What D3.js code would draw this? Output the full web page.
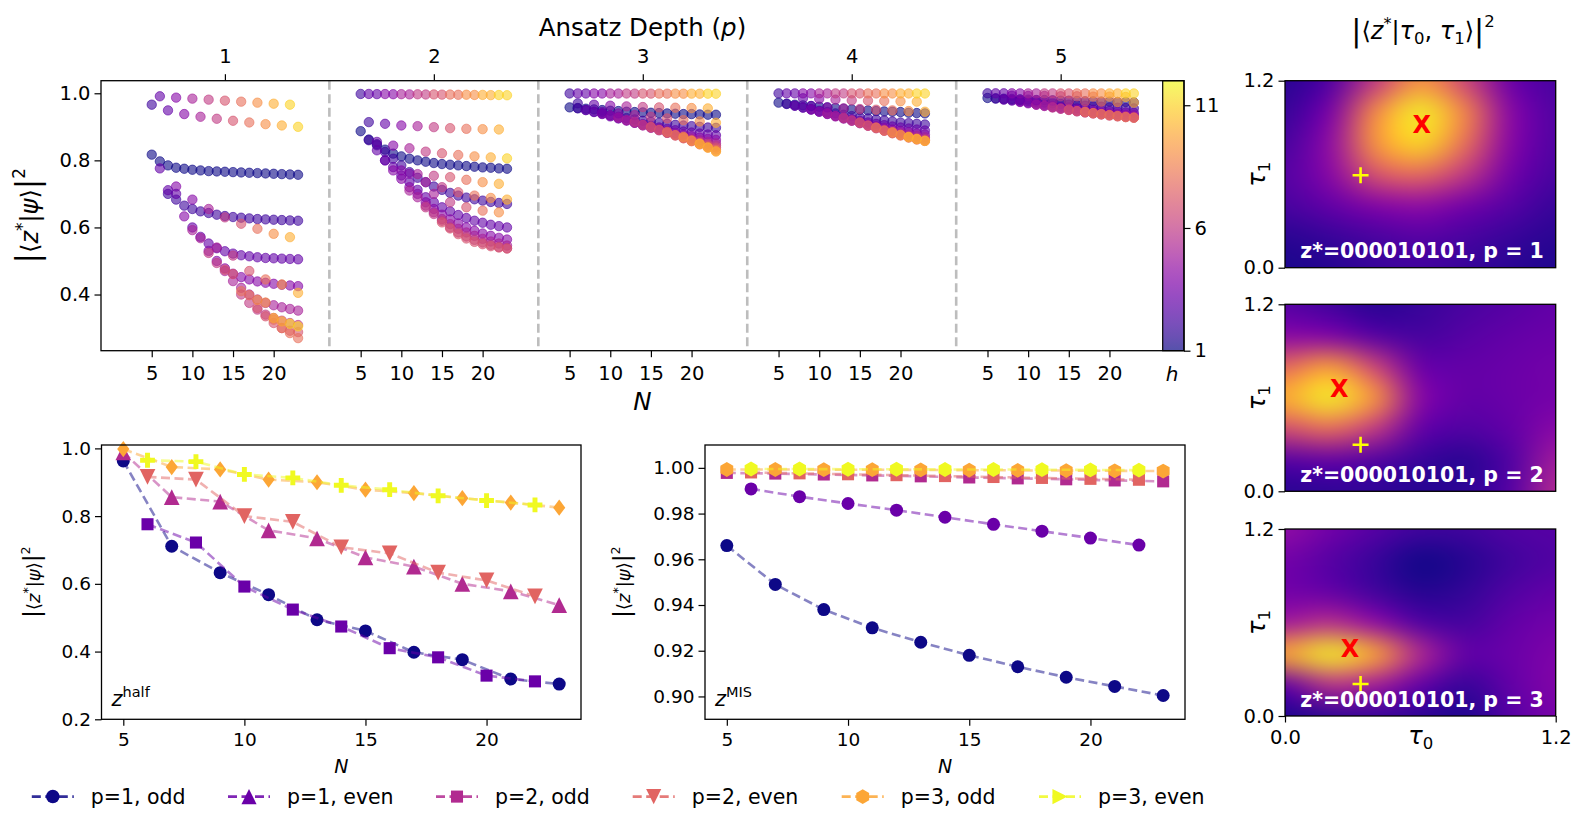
<!DOCTYPE html>
<html>
<head>
<meta charset="utf-8">
<script src="https://cdn.jsdelivr.net/npm/d3@7"></script>
<style>
  body { margin: 0; background: #fff; }
  svg { font-family: 'DejaVu Sans', sans-serif; }
</style>
</head>
<body>
<svg id="fig" width="1587" height="833"></svg>
<script>
// ---------- data ----------
const depths = [1, 2, 3, 4, 5];
const nTicks = [5, 10, 15, 20];
const hTicks = [1, 6, 11];
const topYTicks = [0.4, 0.6, 0.8, 1.0];

// each track: first N, N step, h at first point, h change per point, overlaps
const tracksP1 = [
  { n0: 5, step: 1, h0: 1, dh: 0, v: [0.817, 0.797, 0.785, 0.778, 0.775, 0.772, 0.770, 0.768, 0.767, 0.766, 0.765, 0.764, 0.763, 0.762, 0.761, 0.760, 0.759, 0.758, 0.757] },
  { n0: 7, step: 1, h0: 2, dh: 0, v: [0.700, 0.683, 0.665, 0.655, 0.648, 0.643, 0.638, 0.634, 0.631, 0.629, 0.627, 0.625, 0.624, 0.623, 0.622, 0.621, 0.620] },
  { n0: 10, step: 1, h0: 3, dh: 0, v: [0.600, 0.572, 0.552, 0.538, 0.529, 0.522, 0.517, 0.514, 0.511, 0.509, 0.508, 0.507, 0.506, 0.505] },
  { n0: 12, step: 1, h0: 4, dh: 0, v: [0.530, 0.500, 0.478, 0.462, 0.452, 0.445, 0.439, 0.435, 0.432, 0.429, 0.427, 0.425] },
  { n0: 14, step: 1, h0: 5, dh: 0, v: [0.470, 0.440, 0.420, 0.400, 0.385, 0.375, 0.368, 0.362, 0.357, 0.352] },
  { n0: 16, step: 1, h0: 6, dh: 0, v: [0.400, 0.375, 0.355, 0.340, 0.330, 0.322, 0.315, 0.309] },
  { n0: 18, step: 1, h0: 7, dh: 0, v: [0.360, 0.335, 0.315, 0.300, 0.292, 0.288] },
  { n0: 20, step: 1, h0: 8, dh: 0, v: [0.325, 0.300, 0.285, 0.270] },
  { n0: 6, step: 2, h0: 3, dh: 1, v: [0.776, 0.722, 0.592, 0.524, 0.474, 0.410, 0.384, 0.330, 0.313] },
  { n0: 7, step: 2, h0: 3, dh: 1, v: [0.711, 0.633, 0.568, 0.494, 0.461, 0.398, 0.376, 0.320, 0.305] },
  { n0: 8, step: 2, h0: 3, dh: 1, v: [0.700, 0.683, 0.655, 0.630, 0.611, 0.596, 0.581, 0.571] },
  { n0: 13, step: 2, h0: 5, dh: 1, v: [0.540, 0.516, 0.470, 0.445, 0.430, 0.405] },
  { n0: 5, step: 2, h0: 2, dh: 1, v: [0.966, 0.949, 0.938, 0.930, 0.924, 0.918, 0.913, 0.908, 0.904, 0.900] },
  { n0: 6, step: 2, h0: 3, dh: 1, v: [0.991, 0.987, 0.984, 0.981, 0.978, 0.975, 0.972, 0.969, 0.966] }
];
const tracksP2 = [
  { n0: 5, step: 1, h0: 1, dh: 0, v: [0.887, 0.862, 0.848, 0.832, 0.820, 0.812, 0.805, 0.800, 0.796, 0.792, 0.789, 0.787, 0.785, 0.783, 0.781, 0.779, 0.778, 0.776, 0.775] },
  { n0: 6, step: 1, h0: 2, dh: 0, v: [0.860, 0.845, 0.825, 0.805, 0.785, 0.765, 0.748, 0.735, 0.722, 0.712, 0.703, 0.695, 0.689, 0.684, 0.680, 0.676, 0.673, 0.670] },
  { n0: 7, step: 1, h0: 3, dh: 0, v: [0.830, 0.800, 0.780, 0.755, 0.735, 0.712, 0.690, 0.675, 0.660, 0.648, 0.637, 0.628, 0.620, 0.614, 0.608, 0.604, 0.600] },
  { n0: 9, step: 1, h0: 4, dh: 0, v: [0.770, 0.745, 0.720, 0.700, 0.675, 0.655, 0.638, 0.624, 0.612, 0.600, 0.590, 0.582, 0.575, 0.569, 0.564] },
  { n0: 11, step: 1, h0: 5, dh: 0, v: [0.710, 0.690, 0.665, 0.645, 0.625, 0.610, 0.596, 0.585, 0.575, 0.566, 0.558, 0.552, 0.546] },
  { n0: 13, step: 1, h0: 6, dh: 0, v: [0.660, 0.640, 0.620, 0.600, 0.585, 0.573, 0.563, 0.555, 0.548, 0.542, 0.538] },
  { n0: 15, step: 1, h0: 7, dh: 0, v: [0.615, 0.597, 0.580, 0.567, 0.557, 0.550, 0.544, 0.540, 0.537] },
  { n0: 7, step: 2, h0: 3, dh: 1, v: [0.855, 0.844, 0.836, 0.826, 0.821, 0.816, 0.812, 0.809, 0.806] },
  { n0: 8, step: 2, h0: 3, dh: 1, v: [0.800, 0.770, 0.759, 0.754, 0.750, 0.742, 0.735, 0.730] },
  { n0: 11, step: 2, h0: 4, dh: 1, v: [0.760, 0.735, 0.720, 0.705, 0.695, 0.688, 0.683] },
  { n0: 14, step: 2, h0: 5, dh: 1, v: [0.700, 0.675, 0.660, 0.650, 0.645] },
  { n0: 6, step: 2, h0: 2, dh: 1, v: [0.914, 0.909, 0.904, 0.902, 0.899, 0.896, 0.894, 0.893, 0.892] },
  { n0: 5, step: 2, h0: 2, dh: 1, v: [0.998, 0.9975, 0.9972, 0.9968, 0.9964, 0.996, 0.9955, 0.995, 0.9945, 0.9941] },
  { n0: 6, step: 2, h0: 3, dh: 1, v: [0.998, 0.9977, 0.9973, 0.997, 0.9966, 0.9962, 0.9957, 0.9952, 0.9948] }
];
const tracksP3 = [
  { n0: 5, step: 1, h0: 1, dh: 0, v: [0.958, 0.956, 0.954, 0.952, 0.950, 0.948, 0.947, 0.945, 0.944, 0.943, 0.942, 0.941, 0.940, 0.939, 0.938, 0.938, 0.937, 0.936, 0.936] },
  { n0: 6, step: 1, h0: 2, dh: 0, v: [0.955, 0.950, 0.945, 0.940, 0.935, 0.930, 0.926, 0.922, 0.918, 0.915, 0.912, 0.909, 0.906, 0.904, 0.902, 0.900, 0.898, 0.897] },
  { n0: 7, step: 1, h0: 3, dh: 0, v: [0.950, 0.944, 0.938, 0.931, 0.925, 0.919, 0.913, 0.908, 0.903, 0.898, 0.894, 0.890, 0.886, 0.883, 0.880, 0.877, 0.875] },
  { n0: 9, step: 1, h0: 4, dh: 0, v: [0.940, 0.933, 0.926, 0.919, 0.912, 0.905, 0.899, 0.893, 0.887, 0.882, 0.877, 0.872, 0.868, 0.864, 0.861] },
  { n0: 11, step: 1, h0: 5, dh: 0, v: [0.928, 0.920, 0.912, 0.904, 0.897, 0.890, 0.883, 0.877, 0.871, 0.865, 0.860, 0.855, 0.851] },
  { n0: 13, step: 1, h0: 6, dh: 0, v: [0.915, 0.906, 0.898, 0.890, 0.882, 0.875, 0.868, 0.861, 0.855, 0.849, 0.844] },
  { n0: 15, step: 1, h0: 7, dh: 0, v: [0.900, 0.891, 0.882, 0.874, 0.866, 0.858, 0.851, 0.844, 0.838] },
  { n0: 17, step: 1, h0: 8, dh: 0, v: [0.885, 0.875, 0.866, 0.857, 0.848, 0.840, 0.832] },
  { n0: 19, step: 1, h0: 9, dh: 0, v: [0.870, 0.859, 0.848, 0.838, 0.828] },
  { n0: 21, step: 1, h0: 10, dh: 0, v: [0.850, 0.838, 0.826] },
  { n0: 9, step: 2, h0: 3, dh: 1, v: [0.945, 0.940, 0.935, 0.930, 0.925, 0.920, 0.916, 0.912] },
  { n0: 6, step: 2, h0: 2, dh: 1, v: [0.970, 0.966, 0.963, 0.961, 0.959, 0.958, 0.957, 0.956, 0.955] },
  { n0: 5, step: 2, h0: 2, dh: 1, v: [0.9995, 0.9994, 0.9993, 0.9992, 0.9991, 0.9990, 0.9989, 0.9988, 0.9987, 0.9986] },
  { n0: 6, step: 2, h0: 3, dh: 1, v: [0.9996, 0.9995, 0.9994, 0.9993, 0.9992, 0.9991, 0.9990, 0.9989, 0.9988] }
];
const tracksP4 = [
  { n0: 5, step: 1, h0: 1, dh: 0, v: [0.972, 0.969, 0.966, 0.964, 0.962, 0.960, 0.958, 0.956, 0.954, 0.952, 0.950, 0.949, 0.947, 0.946, 0.945, 0.944, 0.942, 0.941, 0.940] },
  { n0: 6, step: 1, h0: 2, dh: 0, v: [0.968, 0.963, 0.958, 0.953, 0.948, 0.944, 0.940, 0.936, 0.932, 0.928, 0.925, 0.922, 0.919, 0.916, 0.913, 0.911, 0.909, 0.907] },
  { n0: 7, step: 1, h0: 3, dh: 0, v: [0.963, 0.957, 0.951, 0.945, 0.939, 0.933, 0.928, 0.923, 0.918, 0.913, 0.909, 0.905, 0.901, 0.898, 0.895, 0.892, 0.889] },
  { n0: 9, step: 1, h0: 4, dh: 0, v: [0.952, 0.945, 0.938, 0.931, 0.925, 0.919, 0.913, 0.907, 0.902, 0.897, 0.892, 0.888, 0.884, 0.880, 0.877] },
  { n0: 11, step: 1, h0: 5, dh: 0, v: [0.940, 0.932, 0.925, 0.918, 0.911, 0.904, 0.898, 0.892, 0.887, 0.882, 0.877, 0.873, 0.869] },
  { n0: 13, step: 1, h0: 6, dh: 0, v: [0.927, 0.919, 0.911, 0.903, 0.896, 0.889, 0.883, 0.877, 0.872, 0.867, 0.863] },
  { n0: 15, step: 1, h0: 7, dh: 0, v: [0.913, 0.904, 0.896, 0.888, 0.881, 0.875, 0.869, 0.864, 0.860] },
  { n0: 17, step: 1, h0: 8, dh: 0, v: [0.898, 0.889, 0.881, 0.874, 0.868, 0.862, 0.858] },
  { n0: 19, step: 1, h0: 9, dh: 0, v: [0.884, 0.876, 0.869, 0.863, 0.858] },
  { n0: 21, step: 1, h0: 10, dh: 0, v: [0.870, 0.864, 0.858] },
  { n0: 9, step: 2, h0: 3, dh: 1, v: [0.962, 0.958, 0.955, 0.953, 0.951, 0.949, 0.947, 0.945] },
  { n0: 8, step: 2, h0: 3, dh: 1, v: [0.985, 0.983, 0.981, 0.979, 0.978, 0.977, 0.976, 0.975] },
  { n0: 5, step: 2, h0: 2, dh: 1, v: [0.9998, 0.9997, 0.9997, 0.9996, 0.9996, 0.9995, 0.9995, 0.9994, 0.9994, 0.9993] },
  { n0: 6, step: 2, h0: 3, dh: 1, v: [0.9998, 0.9998, 0.9997, 0.9997, 0.9996, 0.9996, 0.9995, 0.9995, 0.9994] }
];
const tracksP5 = [
  { n0: 5, step: 1, h0: 1, dh: 0, v: [0.986, 0.985, 0.984, 0.983, 0.982, 0.981, 0.980, 0.980, 0.979, 0.978, 0.978, 0.977, 0.976, 0.976, 0.975, 0.975, 0.974, 0.974, 0.973] },
  { n0: 6, step: 1, h0: 2, dh: 0, v: [0.984, 0.982, 0.980, 0.978, 0.976, 0.974, 0.972, 0.970, 0.968, 0.966, 0.964, 0.963, 0.961, 0.960, 0.958, 0.957, 0.956, 0.955] },
  { n0: 7, step: 1, h0: 3, dh: 0, v: [0.981, 0.978, 0.975, 0.972, 0.969, 0.966, 0.963, 0.960, 0.958, 0.955, 0.953, 0.951, 0.949, 0.947, 0.945, 0.943, 0.942] },
  { n0: 9, step: 1, h0: 4, dh: 0, v: [0.974, 0.970, 0.966, 0.963, 0.959, 0.956, 0.953, 0.950, 0.947, 0.945, 0.942, 0.940, 0.938, 0.936, 0.935] },
  { n0: 11, step: 1, h0: 5, dh: 0, v: [0.966, 0.962, 0.958, 0.954, 0.951, 0.947, 0.944, 0.941, 0.938, 0.936, 0.934, 0.932, 0.930] },
  { n0: 13, step: 1, h0: 6, dh: 0, v: [0.958, 0.954, 0.950, 0.946, 0.943, 0.940, 0.937, 0.934, 0.932, 0.930, 0.928] },
  { n0: 15, step: 1, h0: 7, dh: 0, v: [0.951, 0.947, 0.943, 0.940, 0.937, 0.934, 0.931, 0.929, 0.927] },
  { n0: 17, step: 1, h0: 8, dh: 0, v: [0.945, 0.941, 0.938, 0.935, 0.932, 0.929, 0.927] },
  { n0: 9, step: 2, h0: 3, dh: 1, v: [0.980, 0.979, 0.978, 0.977, 0.976, 0.975, 0.974, 0.972] },
  { n0: 8, step: 2, h0: 3, dh: 1, v: [0.993, 0.992, 0.992, 0.991, 0.991, 0.990, 0.990, 0.989] },
  { n0: 5, step: 2, h0: 2, dh: 1, v: [0.9999, 0.9999, 0.9998, 0.9998, 0.9998, 0.9997, 0.9997, 0.9997, 0.9996, 0.9996] },
  { n0: 6, step: 2, h0: 3, dh: 1, v: [0.9999, 0.9999, 0.9998, 0.9998, 0.9998, 0.9997, 0.9997, 0.9997, 0.9996] }
];
const tracksByDepth = [tracksP1, tracksP2, tracksP3, tracksP4, tracksP5];

// bottom panels
const nOdd = [5, 7, 9, 11, 13, 15, 17, 19, 21, 23];
const nEven = [6, 8, 10, 12, 14, 16, 18, 20, 22];
const seriesNames = ['p=1, odd', 'p=1, even', 'p=2, odd', 'p=2, even', 'p=3, odd', 'p=3, even'];
const seriesTones = [0, 0.2, 0.4, 0.6, 0.8, 1.0];
const halfP1Odd = [0.963, 0.711, 0.633, 0.568, 0.494, 0.461, 0.398, 0.376, 0.319, 0.304];
const halfP1Even = [0.776, 0.722, 0.592, 0.524, 0.474, 0.410, 0.383, 0.329, 0.312];
const halfP2Odd = [0.988, 0.856, 0.843, 0.758, 0.734, 0.678, 0.651, 0.600, 0.578, 0.537];
const halfP2Even = [0.916, 0.908, 0.800, 0.783, 0.708, 0.690, 0.633, 0.610, 0.563];
const halfP3Odd = [0.998, 0.945, 0.938, 0.908, 0.900, 0.878, 0.868, 0.853, 0.840, 0.825];
const halfP3Even = [0.965, 0.961, 0.923, 0.913, 0.891, 0.878, 0.860, 0.846, 0.833];
const misP1Odd = [0.966, 0.949, 0.938, 0.930, 0.9237, 0.918, 0.913, 0.9084, 0.9044, 0.9004];
const misP1Even = [0.9908, 0.9874, 0.9844, 0.9815, 0.9784, 0.9753, 0.9723, 0.9693, 0.9662];
const misP2Odd = [0.9978, 0.9975, 0.9971, 0.9967, 0.9963, 0.9958, 0.9954, 0.9950, 0.9945, 0.9941];
const misP2Even = [0.9980, 0.9976, 0.9972, 0.9968, 0.9964, 0.9960, 0.9956, 0.9952, 0.9948];
const misP3Odd = [0.9993, 0.9993, 0.9992, 0.9992, 0.9991, 0.9990, 0.9989, 0.9988, 0.9987, 0.9986];
const misP3Even = [0.9995, 0.9995, 0.9994, 0.9994, 0.9993, 0.9993, 0.9992, 0.9991, 0.9990];
const halfTicksY = [0.2, 0.4, 0.6, 0.8, 1.0];
const misTicksY = [0.90, 0.92, 0.94, 0.96, 0.98, 1.00];
const bottomTicksX = [5, 10, 15, 20];

// landscapes |<z*|tau0,tau1>|^2, rows from tau1 = 1.2 (top) down to 0.0, columns tau0 = 0..1.2
const tauGrid = [0, 0.2, 0.4, 0.6, 0.8, 1.0, 1.2];
const landP1 = [
  [0.05, 0.14, 0.45, 0.74, 0.50, 0.20, 0.12],
  [0.08, 0.24, 0.72, 0.97, 0.70, 0.28, 0.14],
  [0.12, 0.30, 0.75, 0.92, 0.64, 0.27, 0.14],
  [0.15, 0.28, 0.55, 0.62, 0.45, 0.22, 0.12],
  [0.12, 0.18, 0.26, 0.29, 0.22, 0.15, 0.08],
  [0.05, 0.08, 0.12, 0.15, 0.12, 0.08, 0.05],
  [0.02, 0.04, 0.08, 0.10, 0.08, 0.05, 0.03]
];
const landP2 = [
  [0.15, 0.10, 0.05, 0.08, 0.12, 0.15, 0.18],
  [0.28, 0.25, 0.15, 0.11, 0.15, 0.18, 0.20],
  [0.62, 0.78, 0.50, 0.20, 0.18, 0.20, 0.22],
  [0.82, 0.97, 0.75, 0.28, 0.18, 0.20, 0.23],
  [0.52, 0.62, 0.45, 0.18, 0.14, 0.18, 0.28],
  [0.15, 0.18, 0.14, 0.08, 0.05, 0.14, 0.35],
  [0.05, 0.06, 0.06, 0.04, 0.06, 0.15, 0.40]
];
const landP3 = [
  [0.30, 0.22, 0.15, 0.10, 0.10, 0.14, 0.15],
  [0.22, 0.15, 0.08, 0.01, 0.04, 0.10, 0.14],
  [0.22, 0.18, 0.10, 0.04, 0.07, 0.14, 0.18],
  [0.35, 0.42, 0.30, 0.14, 0.11, 0.18, 0.22],
  [0.80, 0.97, 0.80, 0.40, 0.18, 0.20, 0.25],
  [0.18, 0.42, 0.35, 0.18, 0.08, 0.18, 0.26],
  [0.03, 0.06, 0.08, 0.06, 0.03, 0.15, 0.24]
];
const landscapes = [landP1, landP2, landP3];
const landBest = [[0.606, 0.922], [0.241, 0.662], [0.288, 0.434]];   // red X
const landStart = [[0.335, 0.593], [0.335, 0.299], [0.335, 0.205]];  // yellow +
const landLabels = ['z*=000010101, p = 1', 'z*=000010101, p = 2', 'z*=000010101, p = 3'];

// ---------- drawing ----------
const svg = d3.select('#fig');
const plasma = d3.interpolatePlasma;
const font = 'DejaVu Sans';

function styleAxis(g, size) {
  g.attr('font-size', size).attr('font-family', font);
  g.select('.domain').remove();
  g.selectAll('.tick line').attr('stroke', '#000').attr('stroke-width', 1.2);
  g.selectAll('.tick text').attr('fill', '#000');
}

function psiLabel(x, y, size) {
  const t = svg.append('text')
    .attr('transform', `translate(${x},${y}) rotate(-90)`)
    .attr('text-anchor', 'middle').attr('font-size', size).attr('fill', '#000');
  t.append('tspan').attr('font-size', size * 1.3).text('|');
  t.append('tspan').text('⟨');
  t.append('tspan').attr('font-style', 'italic').text('z');
  t.append('tspan').attr('font-size', size * 0.7).attr('dy', -size * 0.42).text('*');
  t.append('tspan').attr('dy', size * 0.42).text('|');
  t.append('tspan').attr('font-style', 'italic').text('ψ');
  t.append('tspan').text('⟩');
  t.append('tspan').attr('font-size', size * 1.3).text('|');
  t.append('tspan').attr('font-size', size * 0.7).attr('dy', -size * 0.55).text('2');
}

// ===== top scatter: overlap vs N for each depth =====
const topBox = { left: 101, right: 1184, top: 80.7, bottom: 350.7 };
const shift = 25.7;            // N units between depth blocks
const xTop = d3.scaleLinear().domain([-1.24, 131.97]).range([topBox.left, topBox.right]);
const yTop = d3.scaleLinear().domain([0.2325, 1.0375]).range([topBox.bottom, topBox.top]);
const hColor = h => plasma((h - 1) / 11);

// dividers between depths
svg.append('g').selectAll('line')
  .data(depths.slice(0, 4))
  .join('line')
  .attr('x1', p => xTop(26.85 + (p - 1) * shift)).attr('x2', p => xTop(26.85 + (p - 1) * shift))
  .attr('y1', topBox.top).attr('y2', topBox.bottom)
  .attr('stroke', '#bdbdbd').attr('stroke-width', 2.6).attr('stroke-dasharray', '9,4.5');

const points = [];
tracksByDepth.forEach((tracks, pi) => {
  tracks.forEach(t => {
    t.v.forEach((v, i) => {
      points.push({ g: t.n0 + i * t.step + pi * shift, v: v, h: t.h0 + i * t.dh });
    });
  });
});
svg.append('g').selectAll('circle')
  .data(points)
  .join('circle')
  .attr('cx', d => xTop(d.g))
  .attr('cy', d => yTop(d.v))
  .attr('r', 4.7)
  .attr('fill', d => hColor(d.h)).attr('fill-opacity', 0.6)
  .attr('stroke', d => hColor(d.h)).attr('stroke-opacity', 0.6).attr('stroke-width', 1);

// axes
const topTickVals = [];
depths.forEach(p => nTicks.forEach(n => topTickVals.push(n + (p - 1) * shift)));
const gxb = svg.append('g').attr('transform', `translate(0,${topBox.bottom})`)
  .call(d3.axisBottom(xTop).tickValues(topTickVals).tickFormat((d, i) => nTicks[i % 4]).tickSize(6.5).tickPadding(9));
styleAxis(gxb, 19.5);
const gxt = svg.append('g').attr('transform', `translate(0,${topBox.top})`)
  .call(d3.axisTop(xTop).tickValues(depths.map(p => 14 + (p - 1) * shift)).tickFormat((d, i) => depths[i]).tickSize(6.5).tickPadding(11.5));
styleAxis(gxt, 19.5);
const gyl = svg.append('g').attr('transform', `translate(${topBox.left},0)`)
  .call(d3.axisLeft(yTop).tickValues(topYTicks).tickFormat(d3.format('.1f')).tickSize(6.5).tickPadding(4));
styleAxis(gyl, 19.5);

// colour bar (inset at the right of the axes)
const cb = { left: 1162.7, right: topBox.right };
const yCb = d3.scaleLinear().domain([1, 12]).range([topBox.bottom, topBox.top]);
const defs = svg.append('defs');
const grad = defs.append('linearGradient').attr('id', 'cbGrad').attr('x1', 0).attr('y1', 1).attr('x2', 0).attr('y2', 0);
grad.selectAll('stop').data(d3.range(0, 1.0001, 0.05)).join('stop')
  .attr('offset', d => d).attr('stop-color', d => plasma(d)).attr('stop-opacity', 0.7);
svg.append('rect').attr('x', cb.left).attr('y', topBox.top)
  .attr('width', cb.right - cb.left).attr('height', topBox.bottom - topBox.top)
  .attr('fill', 'url(#cbGrad)').attr('stroke', '#000').attr('stroke-width', 1.2);
const gcb = svg.append('g').attr('transform', `translate(${cb.right},0)`)
  .call(d3.axisRight(yCb).tickValues(hTicks).tickSize(6.5).tickPadding(4));
styleAxis(gcb, 19.5);
svg.append('text').attr('x', 1172).attr('y', 381).attr('text-anchor', 'middle')
  .attr('font-size', 20).attr('font-style', 'italic').text('h');

// frame
svg.append('rect').attr('x', topBox.left).attr('y', topBox.top)
  .attr('width', topBox.right - topBox.left).attr('height', topBox.bottom - topBox.top)
  .attr('fill', 'none').attr('stroke', '#000').attr('stroke-width', 1.3);

// labels
const ad = svg.append('text').attr('x', 642.5).attr('y', 35.5).attr('text-anchor', 'middle').attr('font-size', 24.5);
ad.append('tspan').text('Ansatz Depth (');
ad.append('tspan').attr('font-style', 'italic').text('p');
ad.append('tspan').text(')');
svg.append('text').attr('x', 642.5).attr('y', 410).attr('text-anchor', 'middle')
  .attr('font-size', 24.5).attr('font-style', 'italic').text('N');
psiLabel(38, 215.7, 24);

// ===== bottom panels =====
const bTop = 445, bBottom = 719.3;
const markerPts = {
  triangle: [[0, -1], [1, 1], [-1, 1]],
  triangleDown: [[0, 1], [1, -1], [-1, -1]],
  triangleRight: [[1, 0], [-1, -1], [-1, 1]],
  diamond: [[0, -1], [0.75, 0], [0, 1], [-0.75, 0]],
  hexagon: d3.range(6).map(k => [Math.cos(Math.PI / 3 * k - Math.PI / 2), Math.sin(Math.PI / 3 * k - Math.PI / 2)])
};
function markerPath(type, s) {
  if (type === 'circle') return d3.symbol(d3.symbolCircle, Math.PI * s * s / 4)();
  if (type === 'square') return d3.symbol(d3.symbolSquare, s * s * 0.8)();
  if (type === 'plus') return d3.symbol(d3.symbolCross, s * s * 0.62)();
  const r = type === 'hexagon' ? s * 0.55 : s * 0.56;
  return 'M' + markerPts[type].map(p => [p[0] * r, p[1] * r].join(',')).join('L') + 'Z';
}

function bottomPanel(opt) {
  const x = d3.scaleLinear().domain([4.1, 23.9]).range([opt.left, opt.right]);
  const y = d3.scaleLinear().domain(opt.yDomain).range([bBottom, bTop]);
  const line = d3.line().x(d => x(d[0])).y(d => y(d[1]));
  opt.series.forEach((s, i) => {
    const col = plasma(seriesTones[i]);
    const pts = s.n.map((n, j) => [n, s.v[j]]);
    svg.append('path').datum(pts).attr('d', line).attr('fill', 'none')
      .attr('stroke', col).attr('stroke-opacity', 0.5).attr('stroke-width', 2.6).attr('stroke-dasharray', '9,4.5');
    svg.append('g').selectAll('path').data(pts).join('path')
      .attr('transform', d => `translate(${x(d[0])},${y(d[1])})`)
      .attr('d', markerPath(opt.markers[i], opt.sizes[i]))
      .attr('fill', col);
  });
  svg.append('rect').attr('x', opt.left).attr('y', bTop)
    .attr('width', opt.right - opt.left).attr('height', bBottom - bTop)
    .attr('fill', 'none').attr('stroke', '#000').attr('stroke-width', 1.3);
  const gx = svg.append('g').attr('transform', `translate(0,${bBottom})`)
    .call(d3.axisBottom(x).tickValues(bottomTicksX).tickSize(6.5).tickPadding(7));
  styleAxis(gx, 18.5);
  const gy = svg.append('g').attr('transform', `translate(${opt.left},0)`)
    .call(d3.axisLeft(y).tickValues(opt.yTicks).tickFormat(d3.format(opt.fmt)).tickSize(6.5).tickPadding(4));
  styleAxis(gy, 18.5);
  svg.append('text').attr('x', (opt.left + opt.right) / 2).attr('y', 773).attr('text-anchor', 'middle')
    .attr('font-size', 19).attr('font-style', 'italic').text('N');
  psiLabel(opt.labelX, (bTop + bBottom) / 2, 18);
  const tag = svg.append('text').attr('x', opt.left + 10).attr('y', 706).attr('font-size', 21);
  tag.append('tspan').attr('font-style', 'italic').text('z');
  tag.append('tspan').attr('font-size', 14.5).attr('dy', -9).text(opt.tag);
}

bottomPanel({
  left: 101.5, right: 581, yDomain: [0.2, 1.01], yTicks: halfTicksY, fmt: '.1f', labelX: 40, tag: 'half',
  markers: ['circle', 'square', 'triangle', 'triangleDown', 'diamond', 'plus'],
  sizes: [13, 13.5, 14, 14, 14.5, 14],
  series: [
    { n: nOdd, v: halfP1Odd }, { n: nEven, v: halfP1Even },
    { n: nOdd, v: halfP2Odd }, { n: nEven, v: halfP2Even },
    { n: nOdd, v: halfP3Odd }, { n: nEven, v: halfP3Even }
  ]
});
bottomPanel({
  left: 705, right: 1185, yDomain: [0.89, 1.01], yTicks: misTicksY, fmt: '.2f', labelX: 630, tag: 'MIS',
  markers: ['circle', 'circle', 'square', 'square', 'hexagon', 'hexagon'],
  sizes: [13, 13, 13.5, 13.5, 13.5, 13.5],
  series: [
    { n: nOdd, v: misP1Odd }, { n: nEven, v: misP1Even },
    { n: nOdd, v: misP2Odd }, { n: nEven, v: misP2Even },
    { n: nOdd, v: misP3Odd }, { n: nEven, v: misP3Even }
  ]
});

// legend
const legendX = [31.8, 228, 436, 632.7, 841.7, 1039];
const legendMarkers = ['circle', 'triangle', 'square', 'triangleDown', 'hexagon', 'triangleRight'];
const legendY = 796.6;
const lg = svg.append('g').selectAll('g').data(seriesNames).join('g')
  .attr('transform', (d, i) => `translate(${legendX[i]},${legendY})`);
lg.append('line').attr('x1', 0).attr('x2', 42).attr('y1', 0).attr('y2', 0)
  .attr('stroke', (d, i) => plasma(seriesTones[i])).attr('stroke-opacity', 0.85)
  .attr('stroke-width', 2.6).attr('stroke-dasharray', '9,4.5');
lg.append('path').attr('transform', 'translate(21,0)')
  .attr('d', (d, i) => markerPath(legendMarkers[i], 13.5))
  .attr('fill', (d, i) => plasma(seriesTones[i]));
lg.append('text').attr('x', 59).attr('y', 7.3).attr('font-size', 20.5).text(d => d);

// ===== landscapes =====
const land = { left: 1285, right: 1555.7, tops: [80.7, 304.3, 529], h: 187 };
const xLand = d3.scaleLinear().domain([0, 1.2]).range([land.left, land.right]);
const cellW = (land.right - land.left) / (tauGrid.length - 1);
const cellH = land.h / (tauGrid.length - 1);

const lt = svg.append('text').attr('x', 1423).attr('y', 38.5).attr('text-anchor', 'middle').attr('font-size', 24);
lt.append('tspan').attr('font-size', 30).attr('dy', 2).text('|');
lt.append('tspan').attr('dy', -2).text('⟨');
lt.append('tspan').attr('font-style', 'italic').text('z');
lt.append('tspan').attr('font-size', 16).attr('dy', -10).text('*');
lt.append('tspan').attr('dy', 10).text('|');
lt.append('tspan').attr('font-style', 'italic').text('τ');
lt.append('tspan').attr('font-size', 16.5).attr('dy', 5).text('0');
lt.append('tspan').attr('dy', -5).text(', ');
lt.append('tspan').attr('font-style', 'italic').text('τ');
lt.append('tspan').attr('font-size', 16.5).attr('dy', 5).text('1');
lt.append('tspan').attr('dy', -5).text('⟩');
lt.append('tspan').attr('font-size', 30).attr('dy', 2).text('|');
lt.append('tspan').attr('font-size', 16.5).attr('dy', -14).text('2');

landscapes.forEach((grid, k) => {
  const top = land.tops[k];
  const yLand = d3.scaleLinear().domain([0, 1.2]).range([top + land.h, top]);
  const n = grid.length;
  // small canvas with one duplicated edge cell on every side, smoothed when scaled up
  const small = document.createElement('canvas');
  small.width = n + 2; small.height = n + 2;
  const sctx = small.getContext('2d');
  for (let r = 0; r < n + 2; r++) {
    for (let c = 0; c < n + 2; c++) {
      const rr = Math.min(n - 1, Math.max(0, r - 1));
      const cc = Math.min(n - 1, Math.max(0, c - 1));
      sctx.fillStyle = plasma(grid[rr][cc]);
      sctx.fillRect(c, r, 1, 1);
    }
  }
  const bw = Math.round(cellW * (n + 2)), bh = Math.round(cellH * (n + 2));
  const big = document.createElement('canvas');
  big.width = bw; big.height = bh;
  const bctx = big.getContext('2d');
  bctx.imageSmoothingEnabled = true;
  bctx.imageSmoothingQuality = 'high';
  bctx.filter = 'blur(6px)';
  bctx.drawImage(small, 0, 0, bw, bh);

  defs.append('clipPath').attr('id', 'clipLand' + k)
    .append('rect').attr('x', land.left).attr('y', top).attr('width', land.right - land.left).attr('height', land.h);
  svg.append('image')
    .attr('href', big.toDataURL())
    .attr('x', land.left - 1.5 * cellW).attr('y', top - 1.5 * cellH)
    .attr('width', bw).attr('height', bh)
    .attr('preserveAspectRatio', 'none')
    .attr('clip-path', `url(#clipLand${k})`);

  // start point and best point
  const sx = xLand(landStart[k][0]), sy = yLand(landStart[k][1]);
  svg.append('path').attr('d', `M${sx - 8},${sy}H${sx + 8}M${sx},${sy - 8}V${sy + 8}`)
    .attr('stroke', '#ffff00').attr('stroke-width', 2.6);
  svg.append('text').attr('x', xLand(landBest[k][0])).attr('y', yLand(landBest[k][1]) + 8.5)
    .attr('text-anchor', 'middle').attr('font-size', 24).attr('font-weight', 'bold')
    .attr('fill', '#ff0000').text('X');

  svg.append('text').attr('x', 1422).attr('y', top + land.h - 9.5).attr('text-anchor', 'middle')
    .attr('font-size', 20.5).attr('font-weight', 'bold').attr('fill', '#fff').text(landLabels[k]);

  svg.append('rect').attr('x', land.left).attr('y', top).attr('width', land.right - land.left).attr('height', land.h)
    .attr('fill', 'none').attr('stroke', '#000').attr('stroke-width', 1.3);
  const gy = svg.append('g').attr('transform', `translate(${land.left},0)`)
    .call(d3.axisLeft(yLand).tickValues([0, 1.2]).tickFormat(d3.format('.1f')).tickSize(6.5).tickPadding(4));
  styleAxis(gy, 19.5);

  const t1 = svg.append('text').attr('transform', `translate(1265,${top + land.h / 2}) rotate(-90)`)
    .attr('text-anchor', 'middle').attr('font-size', 24);
  t1.append('tspan').attr('font-style', 'italic').text('τ');
  t1.append('tspan').attr('font-size', 16.5).attr('dy', 5).text('1');

  if (k === landscapes.length - 1) {
    const gx = svg.append('g').attr('transform', `translate(0,${top + land.h})`)
      .call(d3.axisBottom(xLand).tickValues([0, 1.2]).tickFormat(d3.format('.1f')).tickSize(6.5).tickPadding(8));
    styleAxis(gx, 19.5);
    const t0 = svg.append('text').attr('x', 1420.7).attr('y', 744).attr('text-anchor', 'middle').attr('font-size', 24);
    t0.append('tspan').attr('font-style', 'italic').text('τ');
    t0.append('tspan').attr('font-size', 16.5).attr('dy', 5).text('0');
  }
});
</script>
</body>
</html>
